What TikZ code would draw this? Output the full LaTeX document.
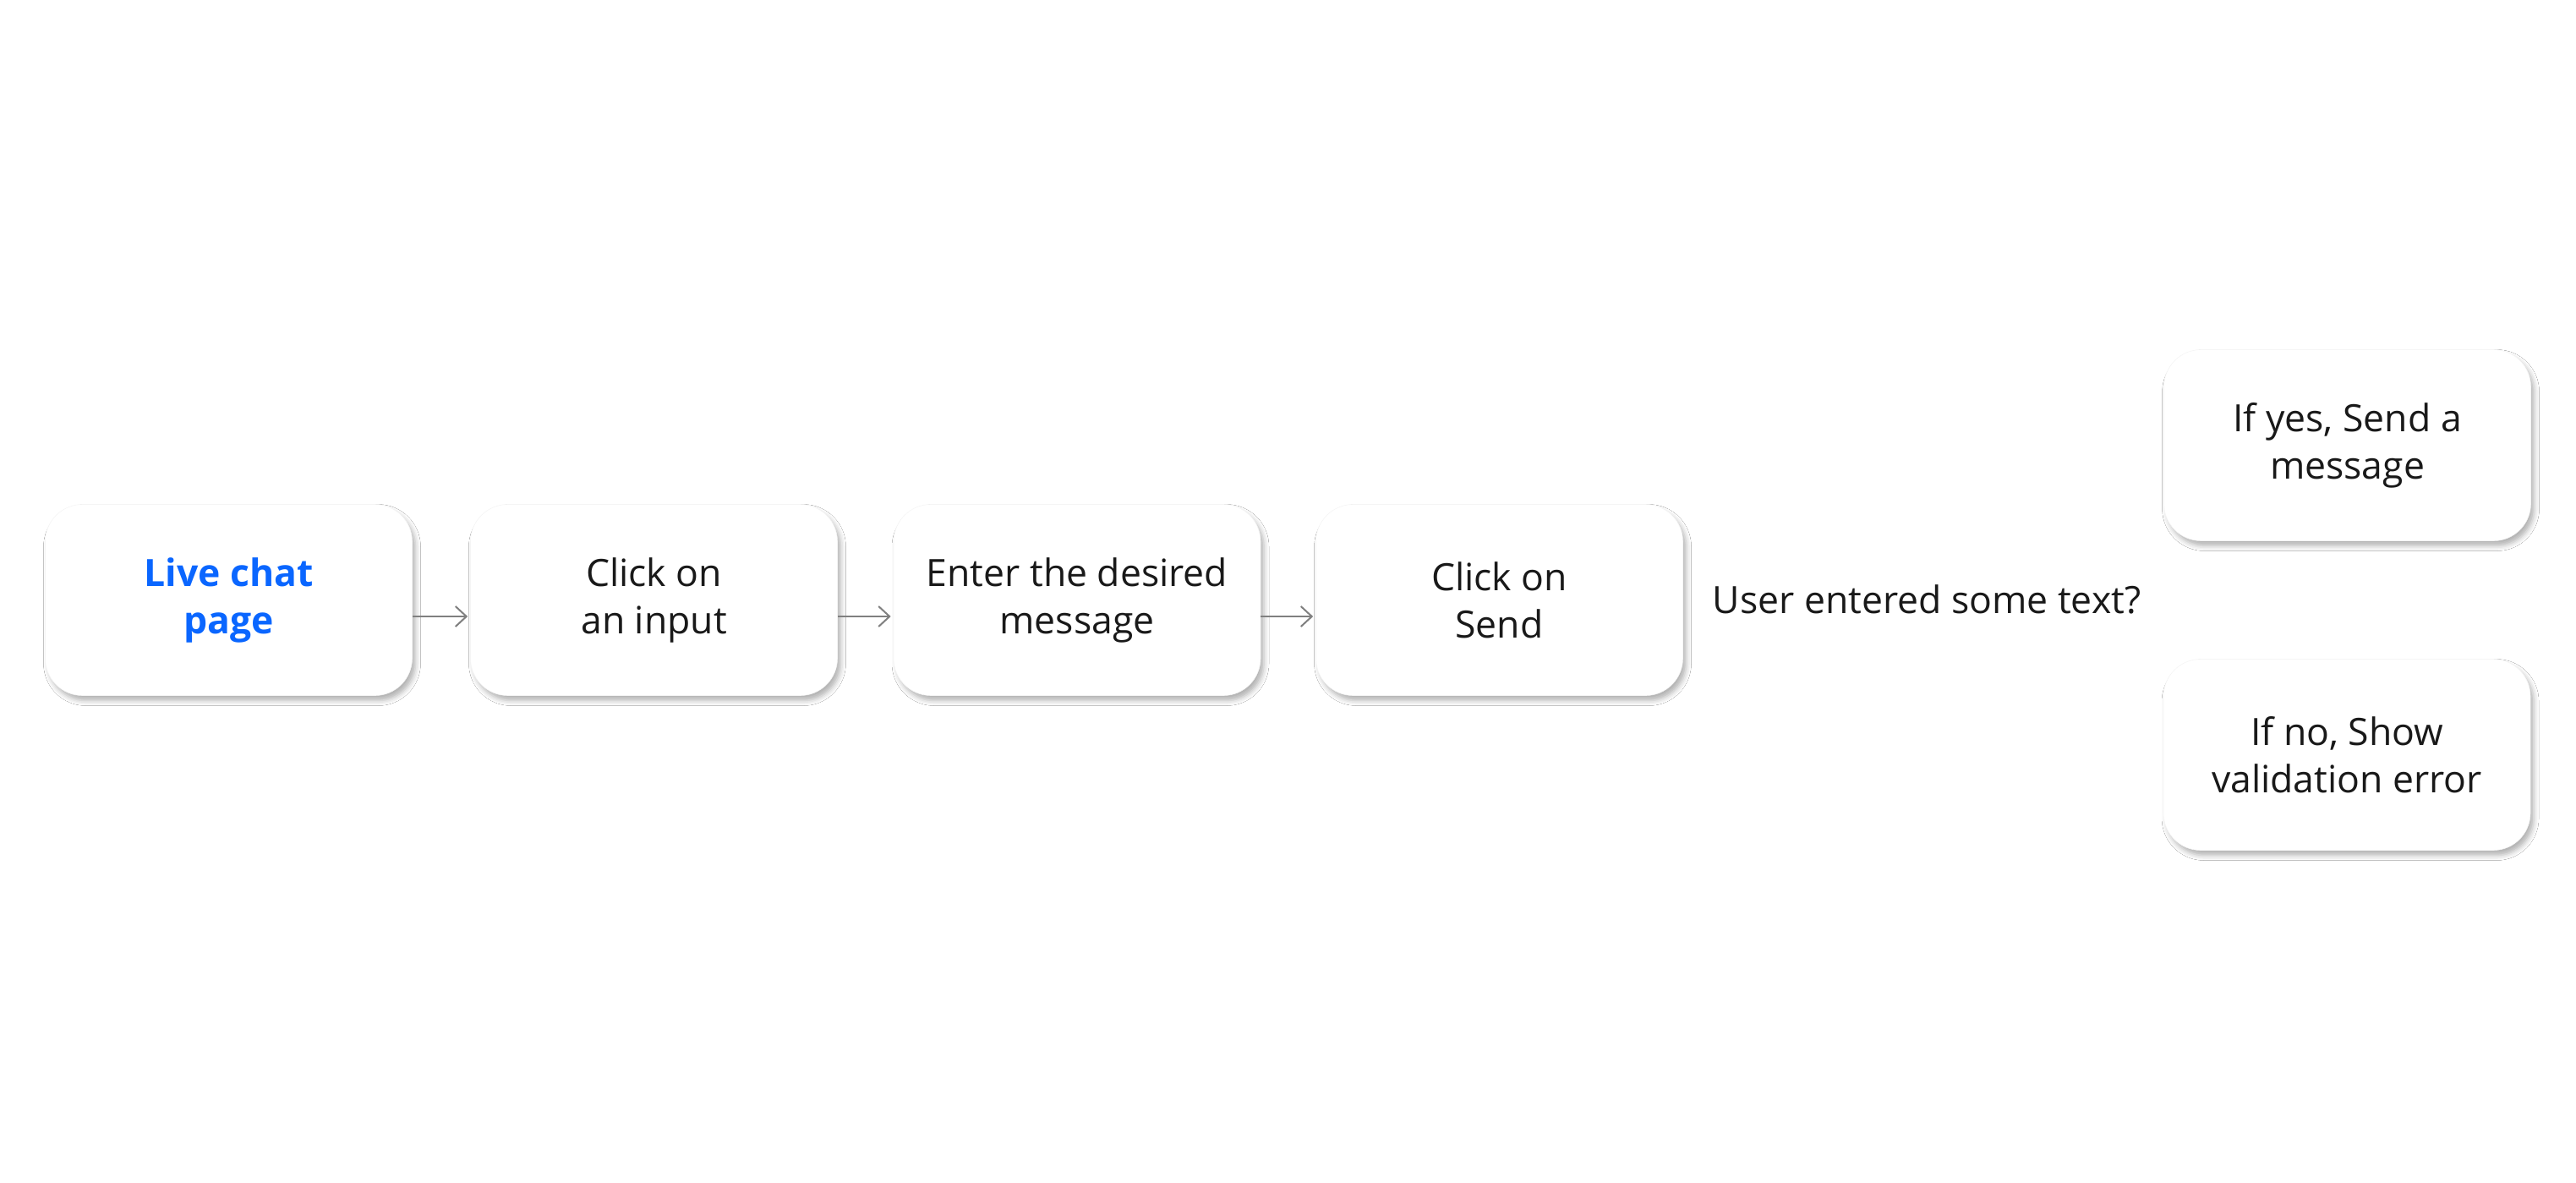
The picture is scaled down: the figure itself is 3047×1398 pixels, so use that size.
\documentclass[tikz,border=0pt]{standalone}
\usepackage{fontspec}
\setmainfont{Open Sans}
\usetikzlibrary{arrows.meta,shadows.blur,calc}
\definecolor{blueA}{RGB}{10,102,255}
\definecolor{greyA}{RGB}{128,128,128}
\definecolor{textA}{RGB}{25,25,25}
\tikzset{
  box/.style={rectangle, rounded corners=44pt, fill=white, draw=black!4, line width=0.6pt,
    minimum width=434pt, minimum height=226pt, inner sep=0pt, align=center,
    text=textA, font=\fontsize{44.5}{56}\selectfont,
    blur shadow={shadow xshift=4pt, shadow yshift=-6pt, shadow blur radius=6pt, shadow opacity=30}},
  plain/.style={inner sep=0pt, align=center, text=textA, font=\fontsize{44.5}{56}\selectfont},
  arr/.style={draw=greyA, line width=2pt, -{Straight Barb[length=13pt,width=24pt,line width=2pt]}, shorten >=3pt}
}
\begin{document}
\begin{tikzpicture}[x=1pt,y=-1pt]
\fill[white] (0,0) rectangle (3047,1398);
\useasboundingbox (0,0) rectangle (3047,1398);

\node[box, text=blueA, font=\fontsize{44.5}{56}\selectfont\bfseries] (b1) at (270.5,709.5) {Live chat\\page};
\node[box] (b2) at (773.5,709.5) {Click on\\an input};
\node[box] (b3) at (1274,709.5) {Enter the desired\\message};
\node[box] (b4) at (1773.5,709.5) {Click on\\Send};
\node[plain] (q) at (2279,709) {User entered some text?};
\node[box] (b5) at (2776.5,526.5) {If yes, Send a\\message};
\node[box] (b6) at (2776,892.5) {If no, Show\\validation error};

\draw[arr] ([yshift=-19.5pt]b1.east) -- ([yshift=-19.5pt]b2.west);
\draw[arr] ([yshift=-19.5pt]b2.east) -- ([yshift=-19.5pt]b3.west);
\draw[arr] ([yshift=-19.5pt]b3.east) -- ([yshift=-19.5pt]b4.west);
\end{tikzpicture}
\end{document}
